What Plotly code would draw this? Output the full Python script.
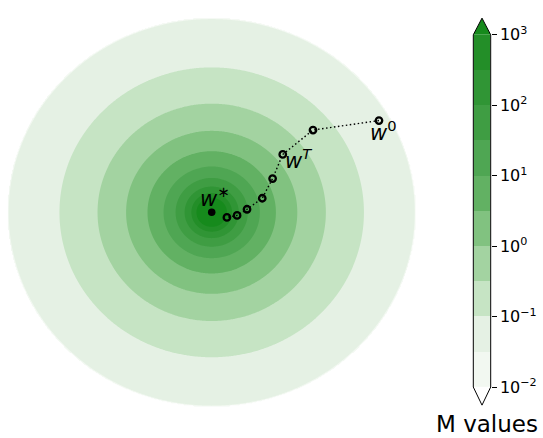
import numpy as np
import plotly.graph_objects as go

W, H = 543, 438

# ---- contour field: log10(M) falls off as r^-4 from the rim of the disk ----
level_start, level_end, level_step = -2.0, 3.0, 0.5
rim_log_m = -1.5          # log10(M) on the rim of the disk (r = 1)
decay_power = 4.0
disk_radius = 1.0
axis_extent = 1.04

# colours: below 1e-2, the ten half-decade bands, above 1e3
band_colors = [
    "#ffffff",
    "#f2f8f1", "#e5f1e4", "#c6e4c4", "#a3d3a1", "#81c280",
    "#62b163", "#4fa653", "#3f9d43", "#309535", "#238e28",
    "#168a1c",
]

# optimisation trajectory from w^0 towards the optimum w*
path_x = [0.824, 0.499, 0.350, 0.300, 0.249, 0.174, 0.125, 0.075]
path_y = [0.475, 0.426, 0.300, 0.175, 0.073, 0.016, -0.016, -0.026]
opt_x = [0.0]
opt_y = [0.0]

# point labels
label_text = ["<i>w</i><sup>0</sup>", "<i>w</i><sup><i>T</i></sup>", "<i>w</i><sup>∗</sup>"]
label_x = [0.848, 0.428, 0.018]
label_y = [0.421, 0.277, 0.081]

# colour bar ticks
tick_vals = [-2, -1, 0, 1, 2, 3]
tick_text = ["10<sup>−2</sup>", "10<sup>−1</sup>", "10<sup>0</sup>",
             "10<sup>1</sup>", "10<sup>2</sup>", "10<sup>3</sup>"]
colorbar_title = "M values"

# ---- build the field on a grid ----
n_grid = 401
g = np.linspace(-axis_extent, axis_extent, n_grid)
step = g[1] - g[0]
X, Y = np.meshgrid(g, g)
R = np.hypot(X, Y)
Z = rim_log_m - decay_power * np.log10(np.maximum(R, 1e-3))
Z = np.where(R <= disk_radius + 1.5 * step, Z, -10.0)
Z = np.round(Z, 4)

# stepwise colour scale: one flat slot per band (incl. under/over)
n_slots = len(band_colors)
colorscale = []
for k, c in enumerate(band_colors):
    lo = max(0.0, (k - 0.5) / (n_slots - 1))
    hi = min(1.0, (k + 0.5) / (n_slots - 1))
    colorscale += [[lo, c], [hi, c]]
zmin = level_start - level_step / 2
zmax = level_end + level_step / 2

levels = np.arange(level_start, level_end + level_step / 2, level_step)
band_mid = (levels[:-1] + levels[1:]) / 2

fig = go.Figure()

fig.add_trace(go.Contour(
    x=g, y=g, z=Z,
    contours=dict(start=level_start, end=level_end, size=level_step,
                  coloring="fill", showlines=False),
    colorscale=colorscale, showscale=False, line=dict(width=0),
    hoverinfo="skip", xaxis="x", yaxis="y",
))

fig.add_trace(go.Scatter(
    x=path_x, y=path_y, mode="lines+markers",
    line=dict(color="black", width=1.4, dash="1.5px,2.5px"),
    marker=dict(symbol="circle-open", size=6.5, color="black",
                line=dict(width=2.3, color="black")),
    hoverinfo="skip", xaxis="x", yaxis="y",
))

fig.add_trace(go.Scatter(
    x=opt_x, y=opt_y, mode="markers",
    marker=dict(size=7.5, color="black"),
    hoverinfo="skip", xaxis="x", yaxis="y",
))

# colour bar drawn as a one-column heatmap on its own axis
fig.add_trace(go.Heatmap(
    x=[0, 1], y=levels, z=[[v] for v in band_mid],
    colorscale=colorscale, zmin=zmin, zmax=zmax, showscale=False,
    hoverinfo="skip", xaxis="x2", yaxis="y2",
))

# pixel geometry -> paper fractions
cx, cy = 211.7, 211.5
half = axis_extent * 203
x_dom = [(cx - half) / W, (cx + half) / W]
y_dom = [(H - cy - half) / H, (H - cy + half) / H]

cb_l, cb_r, cb_t, cb_b = 473.3, 490.7, 25.0, 395.0
tip_t, tip_b = 7.5, 414.0
xl, xr = cb_l / W, cb_r / W
xm = (xl + xr) / 2
yt, yb = (H - cb_t) / H, (H - cb_b) / H
ytt, ybt = (H - tip_t) / H, (H - tip_b) / H

font = "DejaVu Sans"

fig.update_layout(
    width=W, height=H,
    margin=dict(l=0, r=0, t=0, b=0),
    paper_bgcolor="white", plot_bgcolor="rgba(0,0,0,0)",
    showlegend=False,
    xaxis=dict(domain=x_dom, range=[-axis_extent, axis_extent], visible=False),
    yaxis=dict(domain=y_dom, range=[-axis_extent, axis_extent], visible=False),
    xaxis2=dict(domain=[xl, xr], range=[0, 1], visible=False, anchor="y2"),
    yaxis2=dict(domain=[yb, yt], range=[level_start, level_end], anchor="x2",
                side="right", tickvals=tick_vals, ticktext=tick_text,
                ticks="outside", ticklen=5, tickwidth=1, tickcolor="black",
                showgrid=False, zeroline=False, showline=False,
                tickfont=dict(family=font, size=16, color="black")),
    shapes=[
        dict(type="path", xref="paper", yref="paper",
             path=f"M{xl},{yt} L{xm},{ytt} L{xr},{yt} Z",
             fillcolor=band_colors[-1], line=dict(width=0), layer="above"),
        dict(type="path", xref="paper", yref="paper",
             path=f"M{xl},{yb} L{xm},{ybt} L{xr},{yb} Z",
             fillcolor=band_colors[0], line=dict(width=0), layer="above"),
        dict(type="path", xref="paper", yref="paper",
             path=(f"M{xl},{yt} L{xm},{ytt} L{xr},{yt} L{xr},{yb} "
                   f"L{xm},{ybt} L{xl},{yb} Z"),
             fillcolor="rgba(0,0,0,0)", line=dict(width=1, color="black"),
             layer="above"),
    ],
)

for t, x, y in zip(label_text, label_x, label_y):
    fig.add_annotation(x=x, y=y, xref="x", yref="y", text=t, showarrow=False,
                       xanchor="center", yanchor="middle",
                       font=dict(family=font, size=21, color="black"))

fig.add_annotation(x=486.5 / W, y=(H - 434) / H, xref="paper", yref="paper",
                   text=colorbar_title, showarrow=False,
                   xanchor="center", yanchor="middle",
                   font=dict(family=font, size=23, color="black"))

fig.write_html("out.html")
